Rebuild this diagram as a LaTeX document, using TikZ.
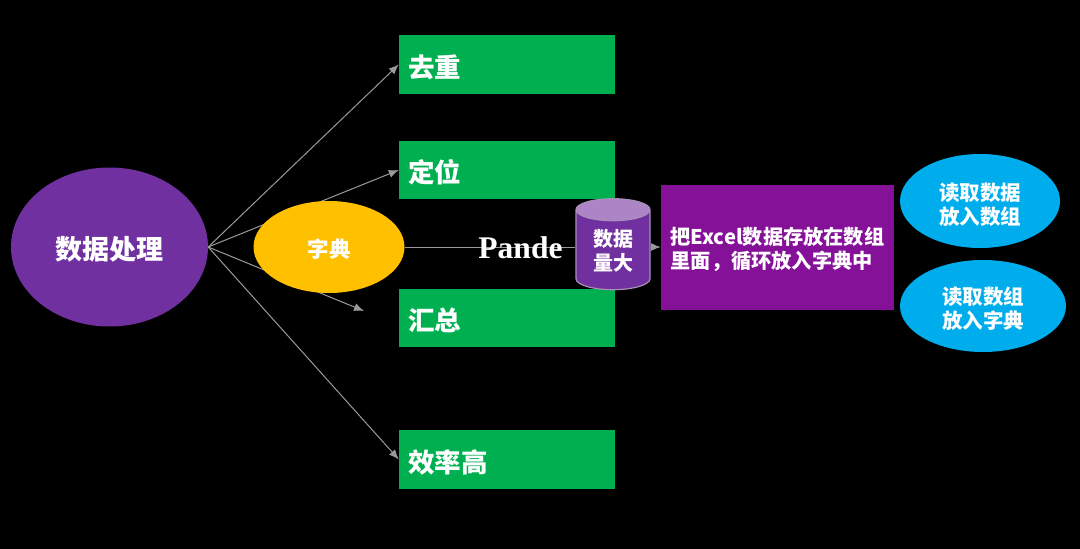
\documentclass[tikz,border=0pt]{standalone}
\usepackage{fontspec}
\setmainfont{Noto Sans CJK SC}
\newfontfamily\pandefont{Liberation Serif}
\usetikzlibrary{shapes.geometric,arrows.meta}
\definecolor{datapurple}{HTML}{7030A0}
\definecolor{dictgold}{HTML}{FFC000}
\definecolor{boxgreen}{HTML}{00B050}
\definecolor{boxviolet}{HTML}{861199}
\definecolor{ovalblue}{HTML}{00ADEC}
\definecolor{cyltop}{HTML}{AD84C6}
\definecolor{cylline}{HTML}{A78FB8}
\definecolor{linkgrey}{HTML}{9A9A9A}
\newcommand{\lowered}[2]{\raisebox{-#1pt}[\height][\depth]{#2}}
\tikzset{
  x=1pt,y=-1pt,
  greenbox/.style={rectangle,fill=boxgreen,minimum width=216pt,inner sep=0pt,inner xsep=9pt,text width=198pt,align=left,text=white,font=\fontsize{26.5}{30}\selectfont\bfseries},
  blueoval/.style={ellipse,fill=ovalblue,inner sep=0pt,align=center,text=white,font=\fontsize{20.5}{24}\selectfont\bfseries},
  link/.style={draw=linkgrey,line width=1pt,-{Latex[length=10pt,width=8pt]}},
}
\begin{document}
\begin{tikzpicture}
\useasboundingbox (0,0) rectangle (1080,549);
\fill[black] (0,0) rectangle (1080,549);
\node[ellipse,fill=datapurple,minimum width=197pt,minimum height=159pt,inner sep=0pt,text=white,font=\fontsize{27}{30}\selectfont\bfseries] (data) at (109.5,247) {\lowered{2}{数据处理}};
\node[greenbox,minimum height=59pt] (qu) at (507,64.5) {\lowered{3}{去重}};
\node[greenbox,minimum height=58pt] (ding) at (507,170) {\lowered{2.5}{定位}};
\node[greenbox,minimum height=58pt] (hui) at (507,318) {\lowered{2.5}{汇总}};
\node[greenbox,minimum height=59pt] (xiao) at (507,459.5) {\lowered{3}{效率高}};
\coordinate (huiend) at (364,311);
\draw[link] (data.east) -- (qu.west);
\draw[link] (data.east) -- (ding.west);
\draw[link] (data.east) -- (huiend);
\draw[link] (data.east) -- (xiao.west);
\node[ellipse,fill=dictgold,minimum width=151pt,minimum height=92pt,inner sep=0pt,text=white,font=\fontsize{21.5}{24}\selectfont\bfseries] (zi) at (329,247) {\lowered{2}{字典}};
\node[rectangle,fill=boxviolet,minimum width=233pt,minimum height=125pt,inner sep=0pt,align=left,text=white,font=\fontsize{20.2}{24}\selectfont\bfseries] (arr) at (777.5,247.5) {\lowered{2}{把Excel数据存放在数组}\\\lowered{2}{里面，循环放入字典中}\hspace{10pt}};
\node[cylinder,shape border rotate=90,aspect=0.55,minimum width=74pt,minimum height=91pt,inner sep=0pt,cylinder uses custom fill,cylinder body fill=datapurple,cylinder end fill=cyltop,draw=cylline,line width=1.2pt,align=center,text=white,font=\fontsize{20}{24}\selectfont\bfseries] (cyl) at (613,250) {\lowered{0.5}{数据}\\\lowered{0.5}{量大}};
\draw[draw=linkgrey,line width=1pt] (zi.east) -- (zi.east -| cyl.west);
\draw[link] (zi.east -| cyl.east) -- (zi.east -| arr.west);
\node[text=white,inner sep=0pt,font=\pandefont\fontsize{31.5}{34}\selectfont\bfseries] (pande) at (520.5,248) {Pande};
\node[blueoval,minimum width=160pt,minimum height=94pt] (read1) at (980,201) {\lowered{3.5}{读取数据}\\\lowered{3.5}{放入数组}};
\node[blueoval,minimum width=166pt,minimum height=92pt] (read2) at (983,306) {\lowered{3}{读取数组}\\\lowered{3}{放入字典}};
\end{tikzpicture}
\end{document}
